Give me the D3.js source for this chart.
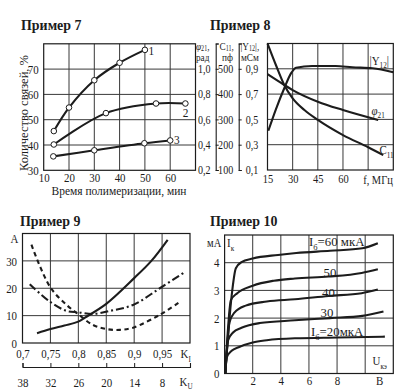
<!DOCTYPE html>
<html><head><meta charset="utf-8">
<script src="https://cdn.jsdelivr.net/npm/d3@7"></script>
<style>html,body{margin:0;padding:0;background:#fff;} svg{display:block;}</style>
</head><body><svg id="c" width="397" height="391"></svg>
<script>
// ---------- data ----------
// Пример 7
const p7XTicks = [10, 20, 30, 40, 50, 60];
const p7YTicks = [30, 40, 50, 60, 70];
const p7Time1 = [14, 20, 30, 40, 50];
const p7Bond1 = [45.5, 54.8, 65.6, 72.5, 77.6];
const p7Time2 = [14, 34.6, 54.4, 66];
const p7Bond2 = [40.2, 52.6, 56.4, 56.4];
const p7Time3 = [13.8, 30, 49.8, 60];
const p7Bond3 = [35.5, 37.9, 40.7, 41.8];
const p7CurveNames = ["1", "2", "3"];

// Пример 8
const p8FTicks = [15, 30, 45, 60];
const p8PhiTicks = [0.2, 0.4, 0.6, 0.8, 1.0];
const p8CTicks = [100, 200, 300, 400, 500];
const p8YTicks = [0.1, 0.3, 0.5, 0.7, 0.9];
const p8FreqY = [15.5, 20, 25, 29, 32, 41.6, 55.6, 65.6, 77.6, 90];
const p8Y12 = [0.41, 0.58, 0.746, 0.864, 0.909, 0.922, 0.922, 0.912, 0.904, 0.872];
const p8FreqC = [15, 20, 25, 30, 37, 45, 60, 75, 84];
const p8C11 = [600, 515, 436, 383, 337, 298, 238, 190, 159];
const p8FreqPhi = [15, 25, 30, 45, 60, 81];
const p8Phi = [0.957, 0.872, 0.832, 0.74, 0.674, 0.595];

// Пример 9
const p9KiTicks = [0.7, 0.75, 0.8, 0.85, 0.9, 0.95];
const p9KuTicks = [38, 32, 26, 20, 14, 8];
const p9ATicks = [0, 10, 20, 30];
const p9KiSolid = [0.726, 0.75, 0.775, 0.80, 0.812, 0.85, 0.9, 0.93, 0.96];
const p9ASolid = [3.6, 5.1, 6.4, 7.8, 9.3, 14.3, 23.7, 29.8, 37.7];
const p9KiDash = [0.716, 0.749, 0.779, 0.80, 0.826, 0.85, 0.874, 0.898, 0.946, 0.981];
const p9ADash = [35.9, 20.6, 13.9, 10.5, 6.6, 5.1, 4.8, 5.6, 10.3, 14.9];
const p9KiDashDot = [0.713, 0.749, 0.779, 0.80, 0.826, 0.856, 0.898, 0.946, 0.99];
const p9ADashDot = [21.5, 15.1, 11.7, 11.2, 10.6, 11.7, 13.9, 20, 25.8];

// Пример 10
const p10UTicks = [2, 4, 6, 8];
const p10ITicks = [0, 1, 2, 3, 4];
const p10U20 = [0.05, 0.15, 0.5, 1, 2, 3, 5, 8, 11.4];
const p10I20 = [0, 0.58, 0.82, 0.95, 1.12, 1.2, 1.27, 1.3, 1.33];
const p10U30 = [0.05, 0.25, 0.6, 1.2, 2.5, 5, 7.5, 9.8, 11.3];
const p10I30 = [0, 1.2, 1.48, 1.65, 1.82, 1.92, 2.0, 2.08, 2.24];
const p10U40 = [0.05, 0.35, 0.7, 1.5, 3, 5, 7.4, 9.75, 10.9];
const p10I40 = [0, 1.85, 2.2, 2.45, 2.6, 2.68, 2.8, 2.9, 3.03];
const p10U50 = [0.05, 0.45, 0.9, 2, 3.5, 5, 7.4, 9.75, 10.9];
const p10I50 = [0, 2.65, 2.9, 3.17, 3.35, 3.43, 3.5, 3.63, 3.76];
const p10U60 = [0.05, 0.5, 0.8, 1.2, 2, 3.8, 5.1, 7.5, 9.8, 10.9];
const p10I60 = [0, 2.8, 3.8, 4.02, 4.15, 4.28, 4.35, 4.43, 4.52, 4.7];

// ---------- drawing ----------
const FONT = "'Liberation Serif','Times New Roman',serif";
const SX = 0.84;
const INK = "#1c1c1c";
const GRID = "#383838";
const TICK = 13;
const svg = d3.select('#c');
svg.append('rect').attr('width', 397).attr('height', 391).attr('fill', '#fff');

const zip = (a, b) => a.map((v, i) => [v, b[i]]);
const comma = f => d => d3.format(f)(d).replace('.', ',');

function rich(sel, x, y, parts, o = {}) {
  const size = o.size || 12;
  const sx = o.sx == null ? SX : o.sx;
  let tr = `translate(${x},${y})`;
  if (o.rot) tr += ` rotate(${o.rot})`;
  tr += ` scale(${sx},1)`;
  const t = sel.append('text').attr('transform', tr)
    .attr('text-anchor', o.anchor || 'start')
    .attr('font-family', FONT).attr('font-size', size)
    .attr('font-weight', o.bold ? 'bold' : 'normal')
    .attr('fill', INK);
  if (o.len) t.attr('textLength', o.len).attr('lengthAdjust', 'spacingAndGlyphs');
  if (typeof parts === 'string') parts = [{t: parts}];
  let shifted = 0;
  const subShift = o.subShift == null ? 0.3 : o.subShift;
  parts.forEach(p => {
    const sp = t.append('tspan').text(p.t);
    const target = p.sub ? size * subShift : 0;
    if (target !== shifted) { sp.attr('dy', target - shifted); shifted = target; }
    if (p.sub) sp.attr('font-size', size * 0.66);
    if (p.it) sp.attr('font-style', 'italic');
  });
  return t;
}

function styleAxis(g, size, keepDomain) {
  if (!keepDomain) g.select('.domain').remove();
  g.attr('font-family', null).attr('font-size', null);
  g.selectAll('text').attr('font-family', FONT).attr('font-size', size).attr('fill', INK)
    .attr('transform', `scale(${SX},1)`);
  g.selectAll('line, path').attr('stroke', INK);
}

function grid(g, x, y, xs, ys) {
  const [x0, x1] = x.range(), [y0, y1] = y.range();
  g.append('g').selectAll('line').data(xs).join('line')
    .attr('x1', d => x(d)).attr('x2', d => x(d)).attr('y1', y0).attr('y2', y1)
    .attr('stroke', GRID).attr('stroke-width', 1);
  g.append('g').selectAll('line').data(ys).join('line')
    .attr('y1', d => y(d)).attr('y2', d => y(d)).attr('x1', x0).attr('x2', x1)
    .attr('stroke', GRID).attr('stroke-width', 1);
  g.append('rect').attr('x', x0).attr('y', y1).attr('width', x1 - x0).attr('height', y0 - y1)
    .attr('fill', 'none').attr('stroke', INK).attr('stroke-width', 1.2);
}

function curve(g, line, data, dash) {
  const p = g.append('path').datum(data).attr('d', line)
    .attr('fill', 'none').attr('stroke', INK).attr('stroke-width', 2.1)
    .attr('stroke-linecap', 'butt').attr('stroke-linejoin', 'round');
  if (dash) p.attr('stroke-dasharray', dash);
  return p;
}

const TSX = 0.9; // title squeeze

// ===== Пример 7 =====
{
  const g = svg.append('g');
  const x = d3.scaleLinear([10, 70], [43.7, 195.5]);
  const y = d3.scaleLinear([30, 80], [170.3, 43.8]);
  rich(g, 21, 29.5, 'Пример 7', {bold: true, size: 15.5, sx: TSX});
  grid(g, x, y, [20, 30, 40, 50, 60], [40, 50, 60, 70]);
  g.append('g').attr('transform', `translate(0,${y.range()[0]})`)
    .call(d3.axisBottom(x).tickValues(p7XTicks).tickSize(0).tickPadding(2).tickFormat(d3.format('d')))
    .call(a => styleAxis(a, TICK));
  g.append('g').attr('transform', `translate(${x.range()[0]},0)`)
    .call(d3.axisLeft(y).tickValues(p7YTicks).tickSize(0).tickPadding(6).tickFormat(d3.format('d')))
    .call(a => styleAxis(a, TICK));
  rich(g, 27.5, 113, 'Количество связей, %', {rot: -90, anchor: 'middle', size: 12.5, sx: 1, len: 116});
  rich(g, 119, 195, 'Время полимеризации, мин', {anchor: 'middle', size: 12.5, sx: 1, len: 135});
  const line = d3.line().x(d => x(d[0])).y(d => y(d[1])).curve(d3.curveCatmullRom.alpha(0.5));
  const series = [zip(p7Time1, p7Bond1), zip(p7Time2, p7Bond2), zip(p7Time3, p7Bond3)];
  series.forEach(s => {
    curve(g, line, s);
    g.append('g').selectAll('circle').data(s).join('circle')
      .attr('cx', d => x(d[0])).attr('cy', d => y(d[1])).attr('r', 2.8)
      .attr('fill', '#fff').attr('stroke', INK).attr('stroke-width', 1);
  });
  rich(g, 148.5, 54.5, p7CurveNames[0], {size: 13.5});
  rich(g, 185.5, 116.5, p7CurveNames[1], {size: 13.5, anchor: 'middle'});
  rich(g, 174, 144, p7CurveNames[2], {size: 13.5});
}

// ===== Пример 8 =====
{
  const g = svg.append('g');
  const x = d3.scaleLinear([15, 90], [267.5, 393.3]);
  const yPhi = d3.scaleLinear([0.2, 1.2], [170, 43.5]);
  const yC = d3.scaleLinear([100, 600], [170, 43.5]);
  const yY = d3.scaleLinear([0.1, 1.1], [170, 43.5]);
  rich(g, 210, 29.5, 'Пример 8', {bold: true, size: 15.5, sx: TSX});
  grid(g, x, yPhi, [30, 45, 60, 75], [0.4, 0.6, 0.8, 1.0]);
  g.append('g').attr('transform', `translate(0,${yPhi.range()[0]})`)
    .call(d3.axisBottom(x).tickValues(p8FTicks).tickSize(0).tickPadding(4.5).tickFormat(d3.format('d')))
    .call(a => styleAxis(a, 12.5));
  rich(g, 378, 183.5, 'f, МГц', {size: 12.5, anchor: 'middle'});
  // bracket axes
  const ax1 = 215.7, ax2 = 238.7;
  g.append('g').attr('transform', `translate(${ax1},0)`)
    .call(d3.axisRight(yPhi).tickValues([0.2, 0.4, 0.6, 0.8, 1.0, 1.2]).tickSize(3).tickFormat(''))
    .call(a => styleAxis(a, 11, true));
  g.append('g').attr('transform', `translate(${ax2},0)`)
    .call(d3.axisRight(yC).tickValues([100, 200, 300, 400, 500, 600]).tickSize(3).tickFormat(''))
    .call(a => styleAxis(a, 11, true));
  g.selectAll('.domain').attr('fill', 'none').attr('stroke-width', 1.1);
  g.append('g').attr('transform', `translate(${ax1},0)`)
    .call(d3.axisLeft(yPhi).tickValues(p8PhiTicks).tickSize(0).tickPadding(6).tickFormat(comma('.1f')))
    .call(a => styleAxis(a, 12));
  g.append('g').attr('transform', `translate(${ax2},0)`)
    .call(d3.axisLeft(yC).tickValues(p8CTicks).tickSize(0).tickPadding(6.5).tickFormat(d3.format('d')))
    .call(a => styleAxis(a, 12));
  g.append('g').attr('transform', `translate(${x.range()[0]},0)`)
    .call(d3.axisLeft(yY).tickValues(p8YTicks).tickSize(0).tickPadding(11).tickFormat(comma('.1f')))
    .call(a => styleAxis(a, 12));
  const hs = 11;
  rich(g, 196, 49.5, [{t: 'φ', it: true}, {t: '21', sub: true}, {t: ','}], {size: hs, subShift: 0.15});
  rich(g, 196, 61, 'рад', {size: hs});
  rich(g, 219.5, 49.5, [{t: 'C'}, {t: '11', sub: true}, {t: ','}], {size: hs, subShift: 0.15});
  rich(g, 222, 61, 'пф', {size: hs});
  rich(g, 240.5, 49.5, [{t: '|Y'}, {t: '12', sub: true}, {t: '|,'}], {size: hs, subShift: 0.15});
  rich(g, 241, 61, 'мСм', {size: hs});
  const lY = d3.line().x(d => x(d[0])).y(d => yY(d[1])).curve(d3.curveMonotoneX);
  const lC = d3.line().x(d => x(d[0])).y(d => yC(d[1])).curve(d3.curveMonotoneX);
  const lP = d3.line().x(d => x(d[0])).y(d => yPhi(d[1])).curve(d3.curveMonotoneX);
  curve(g, lY, zip(p8FreqY, p8Y12));
  curve(g, lC, zip(p8FreqC, p8C11));
  curve(g, lP, zip(p8FreqPhi, p8Phi));
  rich(g, 369.5, 64.5, [{t: '|Y'}, {t: '12', sub: true}, {t: '|'}], {size: 13});
  rich(g, 371.5, 114.5, [{t: 'φ', it: true}, {t: '21', sub: true}], {size: 13});
  rich(g, 379.5, 154, [{t: 'C'}, {t: '11', sub: true}], {size: 13});
}

// ===== Пример 9 =====
{
  const g = svg.append('g');
  const x = d3.scaleLinear([0.7, 1.0], [22.5, 190]);
  const xu = d3.scaleLinear([38, 2], [22.5, 190]);
  const y = d3.scaleLinear([0, 40], [343, 233.5]);
  rich(g, 20, 225.5, 'Пример 9', {bold: true, size: 15.5, sx: TSX});
  grid(g, x, y, [0.75, 0.8, 0.85, 0.9, 0.95], [10, 20, 30]);
  g.append('g').attr('transform', `translate(0,${y.range()[0]})`)
    .call(d3.axisBottom(x).tickValues(p9KiTicks).tickSize(0).tickPadding(5.5).tickFormat(d => String(d).replace('.', ',')))
    .call(a => styleAxis(a, TICK));
  g.append('g').attr('transform', `translate(${x.range()[0]},0)`)
    .call(d3.axisLeft(y).tickValues(p9ATicks).tickSize(0).tickPadding(6.5).tickFormat(d3.format('d')))
    .call(a => styleAxis(a, TICK));
  g.append('g').attr('transform', 'translate(0,367)')
    .call(d3.axisBottom(xu).tickValues(p9KuTicks).tickSizeInner(-4).tickSizeOuter(-4).tickPadding(11).tickFormat(d3.format('d')))
    .call(a => styleAxis(a, TICK, true));
  g.selectAll('.domain').attr('fill', 'none').attr('stroke-width', 1.1);
  rich(g, 14.5, 242.5, 'A', {size: 13, anchor: 'middle'});
  rich(g, 180.5, 358, [{t: 'K'}, {t: 'I', sub: true}], {size: 13});
  rich(g, 179.5, 386, [{t: 'K'}, {t: 'U', sub: true}], {size: 13, subShift: 0.2});
  const line = d3.line().x(d => x(d[0])).y(d => y(d[1])).curve(d3.curveCatmullRom.alpha(0.5));
  curve(g, line, zip(p9KiSolid, p9ASolid));
  curve(g, line, zip(p9KiDash, p9ADash), '4.5,3.5');
  curve(g, line, zip(p9KiDashDot, p9ADashDot), '8,3,2,3');
}

// ===== Пример 10 =====
{
  const g = svg.append('g');
  const x = d3.scaleLinear([0, 12], [224.6, 393.3]);
  const y = d3.scaleLinear([0, 5], [373.5, 235]);
  rich(g, 210, 225.5, 'Пример 10', {bold: true, size: 15.5, sx: TSX});
  grid(g, x, y, [2, 4, 6, 8, 10], [1, 2, 3, 4]);
  g.append('g').attr('transform', `translate(0,${y.range()[0]})`)
    .call(d3.axisBottom(x).tickValues(p10UTicks.concat([11])).tickSize(0).tickPadding(2)
      .tickFormat(d => d === 11 ? 'В' : d3.format('d')(d)))
    .call(a => styleAxis(a, TICK));
  g.append('g').attr('transform', `translate(${x.range()[0]},0)`)
    .call(d3.axisLeft(y).tickValues(p10ITicks).tickSize(0).tickPadding(6).tickFormat(d3.format('d')))
    .call(a => styleAxis(a, TICK));
  rich(g, 207, 247, 'мА', {size: 12.5});
  rich(g, 227, 247, [{t: 'I'}, {t: 'к', sub: true}], {size: 13});
  rich(g, 372.5, 365, [{t: 'U'}, {t: 'кэ', sub: true}], {size: 13});
  const line = d3.line().x(d => x(d[0])).y(d => y(d[1])).curve(d3.curveMonotoneX);
  curve(g, line, zip(p10U20, p10I20));
  curve(g, line, zip(p10U30, p10I30));
  curve(g, line, zip(p10U40, p10I40));
  curve(g, line, zip(p10U50, p10I50));
  curve(g, line, zip(p10U60, p10I60));
  const ls = 13.5, lsx = 0.95;
  rich(g, 309, 245.5, [{t: 'I'}, {t: 'б', sub: true}, {t: '=60 мкА'}], {size: ls, sx: lsx});
  rich(g, 330, 276.5, '50', {size: ls, sx: lsx, anchor: 'middle'});
  rich(g, 328.5, 297, '40', {size: ls, sx: lsx, anchor: 'middle'});
  rich(g, 327, 317, '30', {size: ls, sx: lsx, anchor: 'middle'});
  rich(g, 311, 336, [{t: 'I'}, {t: 'б', sub: true}, {t: '=20мкА'}], {size: ls, sx: lsx});
}
</script>
</body></html>
